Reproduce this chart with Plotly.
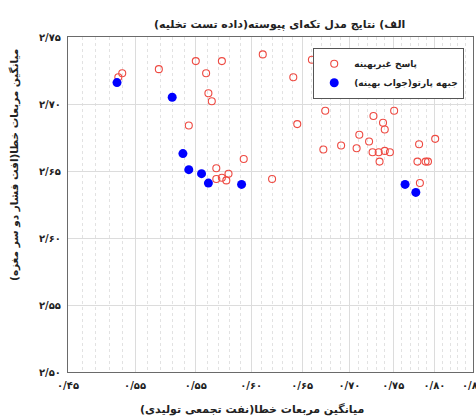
import math
import plotly.graph_objects as go

# Non-optimal responses (cumulative oil MSE, pressure-drop MSE)
other_x = [0.487, 0.490, 0.519, 0.550, 0.573, 0.559, 0.561, 0.564, 0.544, 0.593,
           0.568, 0.579, 0.568, 0.573, 0.577, 0.611, 0.620, 0.660, 0.641, 0.674,
           0.645, 0.751, 0.727, 0.738, 0.740, 0.711, 0.722, 0.672, 0.691, 0.708,
           0.726, 0.733, 0.740, 0.746, 0.734, 0.781, 0.801, 0.779, 0.789, 0.792,
           0.782, 0.826]
other_y = [2.720, 2.723, 2.726, 2.732, 2.732, 2.723, 2.708, 2.702, 2.684, 2.659,
           2.652, 2.648, 2.644, 2.645, 2.643, 2.737, 2.644, 2.733, 2.720, 2.695,
           2.685, 2.695, 2.691, 2.686, 2.681, 2.677, 2.672, 2.666, 2.669, 2.667,
           2.664, 2.664, 2.665, 2.664, 2.657, 2.670, 2.674, 2.657, 2.657, 2.657,
           2.641, 2.713]

# Pareto front (optimal answers)
pareto_x = [0.486, 0.530, 0.539, 0.544, 0.555, 0.561, 0.591, 0.764, 0.777]
pareto_y = [2.716, 2.705, 2.663, 2.651, 2.648, 2.641, 2.640, 2.640, 2.634]

x_tickvals = [0.45, 0.50, 0.55, 0.60, 0.65, 0.70, 0.75, 0.80, 0.85]
x_ticktext = ["۰/۴۵", "۰/۵۵", "۰/۵۵", "۰/۶۰", "۰/۶۵", "۰/۷۰", "۰/۷۵", "۰/۸۰", "۰/۸۵"]
x_minorvals = [0.46, 0.47, 0.48, 0.49, 0.51, 0.52, 0.53, 0.54, 0.56, 0.57, 0.58, 0.59,
               0.61, 0.62, 0.63, 0.64, 0.66, 0.67, 0.68, 0.69, 0.71, 0.72, 0.73, 0.74,
               0.76, 0.77, 0.78, 0.79, 0.81, 0.82, 0.83, 0.84]
y_tickvals = [2.50, 2.55, 2.60, 2.65, 2.70, 2.75]
y_ticktext = ["۲/۵۰", "۲/۵۵", "۲/۶۰", "۲/۶۵", "۲/۷۰", "۲/۷۵"]

RLM = "\u200f"
title_text = RLM + "الف) نتایج مدل تکه‌ای پیوسته(داده تست تخلیه)" + RLM
xtitle_text = RLM + "میانگین مربعات خطا(نفت تجمعی تولیدی)" + RLM
ytitle_text = RLM + "میانگین مربعات خطا(افت فشار دو سر مغزه)" + RLM
name_other = RLM + "پاسخ غیربهینه" + RLM
name_pareto = RLM + "جبهه پارتو(جواب بهینه)" + RLM

FONT = "DejaVu Sans"

fig = go.Figure()
fig.add_trace(go.Scatter(
    x=other_x, y=other_y, mode="markers", name=name_other,
    marker=dict(symbol="circle-open", size=7, color="#ee4a42", line=dict(width=1.1)),
))
fig.add_trace(go.Scatter(
    x=pareto_x, y=pareto_y, mode="markers", name=name_pareto,
    marker=dict(symbol="circle", size=9, color="#0000ff"),
))

axis_common = dict(
    showline=True, mirror=True, linecolor="#6a6a6a", linewidth=1.2,
    ticks="", zeroline=False, showgrid=True, gridcolor="#dcdcdc", gridwidth=1,
    tickfont=dict(family=FONT, size=10, color="#222", weight="bold"),
    automargin=False, ticklabeloverflow="allow",
)

fig.update_xaxes(
    type="log",
    range=[math.log10(0.45) - 1e-6, math.log10(0.85) + 1e-6],
    tickmode="array", tickvals=x_tickvals, ticktext=x_ticktext,
    minor=dict(tickmode="array", tickvals=x_minorvals, showgrid=True,
               gridcolor="#e2e2e2", griddash="dot", gridwidth=1, ticks=""),
    ticklabelstandoff=4,
    **axis_common,
)
fig.update_yaxes(
    range=[2.50, 2.75],
    tickmode="array", tickvals=y_tickvals, ticktext=y_ticktext,
    ticklabelstandoff=4,
    **axis_common,
)

ann_font = dict(family=FONT, size=11, color="#222", weight="bold")
fig.add_annotation(text=title_text, xref="paper", yref="paper", x=0.523, y=1.036,
                   xanchor="center", yanchor="middle", showarrow=False, font=ann_font)
fig.add_annotation(text=xtitle_text, xref="paper", yref="paper", x=0.454, y=-0.113,
                   xanchor="center", yanchor="middle", showarrow=False, font=ann_font)
fig.add_annotation(text=ytitle_text, xref="paper", yref="paper", x=-0.131, y=0.618,
                   xanchor="center", yanchor="middle", showarrow=False, textangle=-90,
                   font=dict(family=FONT, size=10.5, color="#222", weight="bold"))

fig.update_layout(
    width=476, height=417,
    margin=dict(l=68, r=3, t=37, b=45, pad=0),
    paper_bgcolor="white", plot_bgcolor="white",
    showlegend=True,
    legend=dict(
        x=0.605, y=0.967, xanchor="left", yanchor="top",
        bgcolor="white", bordercolor="#555", borderwidth=1.2,
        font=dict(family=FONT, size=9, color="#222", weight="bold"),
        tracegroupgap=0, itemsizing="trace",
    ),
)

fig.write_html("out.html")
